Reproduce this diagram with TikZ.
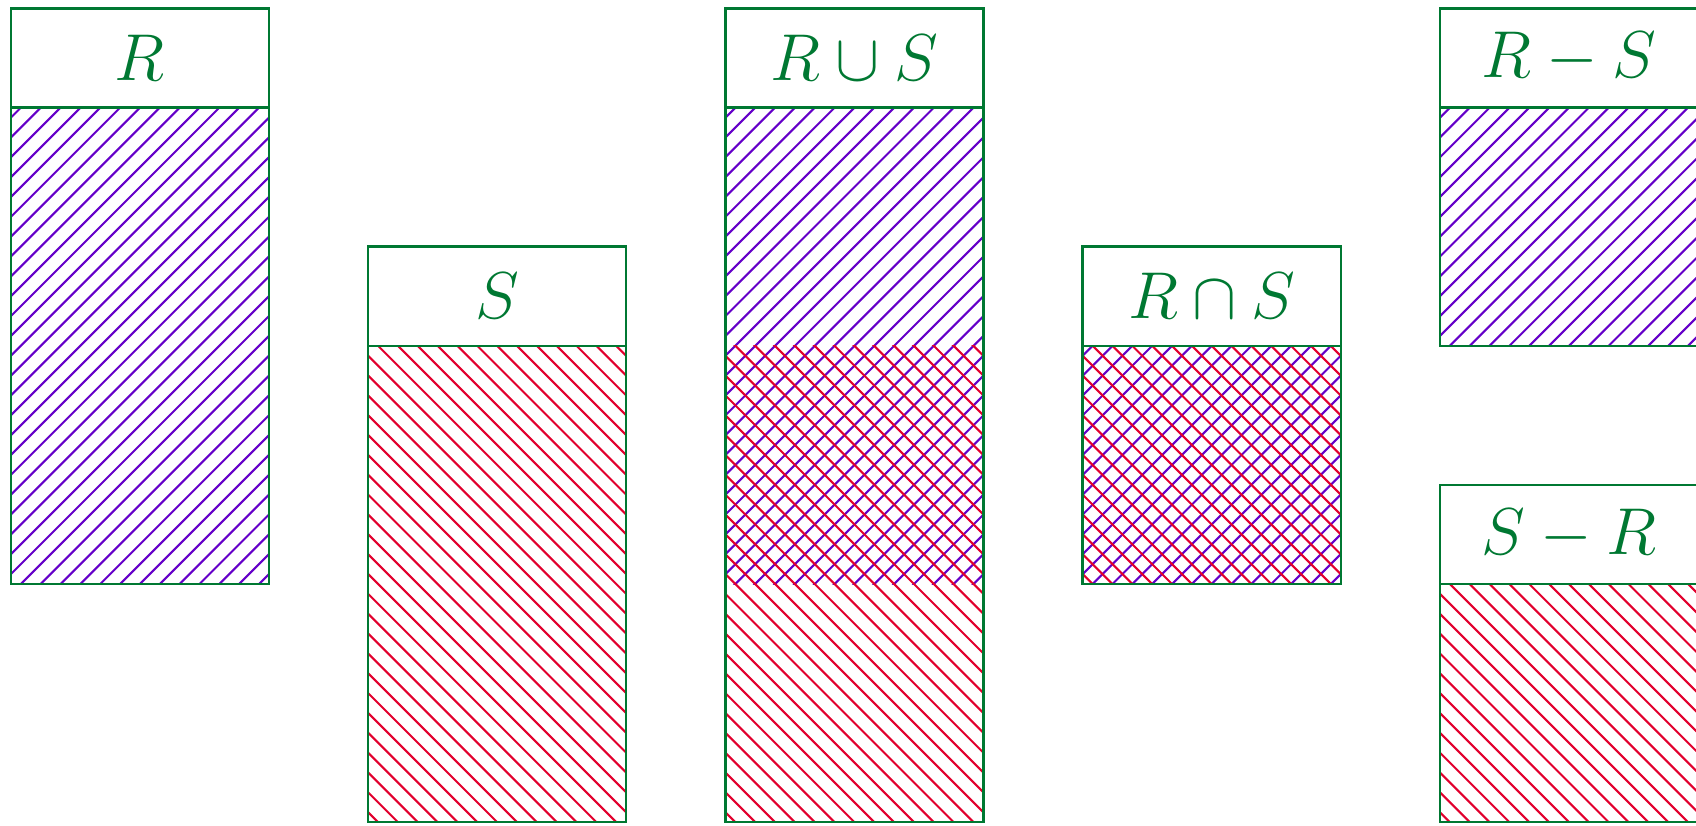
\RequirePackage{fix-cm}
\documentclass[tikz,border=0pt]{standalone}
\usepackage{amsmath, amssymb}
\usepackage{tikz}
\usetikzlibrary{positioning, calc, backgrounds}

\definecolor{setgreen}{RGB}{0,120,50}
\definecolor{rviolet}{RGB}{100,0,200}
\definecolor{sred}{RGB}{225,0,45}

% hatching of R tuples (north east lines) inside a rectangle
\newcommand{\rlines}[2]{%
  \begin{scope}[on background layer]
    \begin{scope}
      \clip #1 rectangle #2;
      \foreach \k in {-90,...,42}
        \draw[r hatch] (-1,{0.2*\k+0.1-1}) -- ++(19,19);
    \end{scope}
  \end{scope}}
% hatching of S tuples (north west lines) inside a rectangle
\newcommand{\slines}[2]{%
  \begin{scope}[on background layer]
    \begin{scope}
      \clip #1 rectangle #2;
      \foreach \k in {-3,...,125}
        \draw[s hatch] (-1,{0.2*\k+0.1+1}) -- ++(19,-19);
    \end{scope}
  \end{scope}}

\begin{document}
\begin{tikzpicture}[
    set head/.style={draw=setgreen, line width=0.7pt, minimum width=26mm, minimum height=10mm,
        inner sep=0pt, outer sep=0pt, text=setgreen, font=\fontsize{19}{22}\selectfont},
    set body/.style={draw=setgreen, line width=0.7pt, minimum width=26mm,
        inner sep=0pt, outer sep=0pt, anchor=north},
    r hatch/.style={rviolet, line width=0.6pt},
    s hatch/.style={sred, line width=0.6pt}
]
    \useasboundingbox (-0.11,-0.035) rectangle (16.98,8.285);

    % R
    \node[set head] (r_head) at (1.3,7.7) {$R$};
    \node[set body, minimum height=48mm] (r_body) at (r_head.south) {};
    \rlines{(r_body.south west)}{(r_body.north east)}

    % S
    \node[set head] (s_head) at (4.9,5.3) {$S$};
    \node[set body, minimum height=48mm] (s_body) at (s_head.south) {};
    \slines{(s_body.south west)}{(s_body.north east)}

    % union
    \node[set head] (u_head) at (8.5,7.7) {$R \cup S$};
    \node[set body, minimum height=72mm] (u_body) at (u_head.south) {};
    \rlines{([yshift=24mm]u_body.south west)}{(u_body.north east)}
    \slines{(u_body.south west)}{([yshift=-24mm]u_body.north east)}

    % intersection
    \node[set head] (i_head) at (12.1,5.3) {$R \cap S$};
    \node[set body, minimum height=24mm] (i_body) at (i_head.south) {};
    \rlines{(i_body.south west)}{(i_body.north east)}
    \slines{(i_body.south west)}{(i_body.north east)}

    % differences
    \node[set head] (rs_head) at (15.7,7.7) {$R - S$};
    \node[set body, minimum height=24mm] (rs_body) at (rs_head.south) {};
    \rlines{(rs_body.south west)}{(rs_body.north east)}

    \node[set head] (sr_head) at (15.7,2.9) {$S - R$};
    \node[set body, minimum height=24mm] (sr_body) at (sr_head.south) {};
    \slines{(sr_body.south west)}{(sr_body.north east)}
\end{tikzpicture}
\end{document}
